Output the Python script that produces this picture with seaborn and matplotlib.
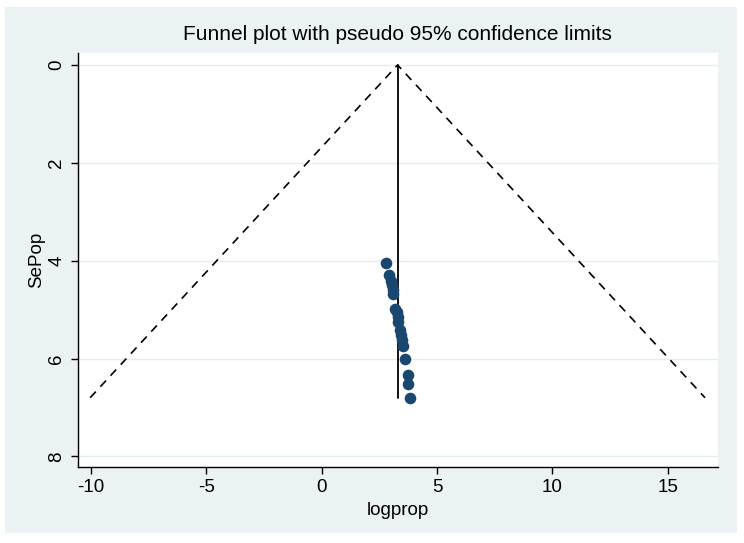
import seaborn as sns
import matplotlib.pyplot as plt
import pandas as pd

# Study estimates
logprop = [2.79, 2.93, 2.99, 3.03, 3.08, 3.10, 3.18, 3.25, 3.29, 3.32,
           3.39, 3.44, 3.47, 3.51, 3.61, 3.73, 3.75, 3.83]
sepop = [4.04, 4.29, 4.41, 4.50, 4.60, 4.69, 4.98, 5.04, 5.15, 5.25,
         5.42, 5.52, 5.62, 5.75, 6.00, 6.34, 6.51, 6.80]
pooled = 3.29
se_max = 6.80
xticks = [-10, -5, 0, 5, 10, 15]
yticks = [0, 2, 4, 6, 8]

bg = "#EAF2F3"
navy = "#1A476F"

sns.set_theme(style="white")
plt.rcParams['font.family'] = ['Liberation Sans', 'DejaVu Sans']
plt.rcParams['axes.unicode_minus'] = False
plt.rcParams['text.color'] = 'black'
plt.rcParams['axes.labelcolor'] = 'black'
plt.rcParams['xtick.color'] = 'black'
plt.rcParams['ytick.color'] = 'black'

fig = plt.figure(figsize=(7.44, 5.43), dpi=100)
fig.patch.set_facecolor("white")
# light inner backdrop like Stata's graph region
fig.add_artist(plt.Rectangle((5 / 744, 1 - 533 / 543), 732 / 744, 526 / 543,
                             transform=fig.transFigure, facecolor=bg,
                             edgecolor="none", zorder=-5))
ax = fig.add_axes([0.1044, 0.1405, 0.8603, 0.7619])
ax.set_facecolor("white")

df = pd.DataFrame({"logprop": logprop, "SePop": sepop})

# pseudo 95% limits
funnel = pd.DataFrame({
    "x": [pooled - 1.96 * se_max, pooled, pooled + 1.96 * se_max],
    "y": [se_max, 0, se_max],
})
ax.plot(funnel["x"], funnel["y"], color="black", lw=1.2, ls=(0, (5, 4)), zorder=2)
ax.plot([pooled, pooled], [0, se_max], color="black", lw=1.3, zorder=3)

sns.scatterplot(data=df, x="logprop", y="SePop", ax=ax, color=navy, s=70,
                edgecolor=navy, linewidth=0, zorder=4)

ax.set_xlim(-10.58, 17.17)
ax.set_ylim(8.21, -0.245)
ax.set_xticks(xticks)
ax.set_yticks(yticks)
for t in yticks:
    ax.axhline(t, color="#E2EEF0", lw=1, zorder=1)

for side in ["top", "right"]:
    ax.spines[side].set_visible(False)
for side in ["left", "bottom"]:
    ax.spines[side].set_color("black")
    ax.spines[side].set_linewidth(1)

ax.tick_params(axis="both", direction="out", length=5, width=1, color="black",
               labelcolor="black", labelsize=13.5, left=True, bottom=True, pad=4)
for lab in ax.get_yticklabels():
    lab.set_rotation(90)
    lab.set_va("center")

ax.set_xlabel("logprop", fontsize=13.5, labelpad=4, color="black")
ax.set_ylabel("SePop", fontsize=13.5, labelpad=2, color="black")
ax.set_title("Funnel plot with pseudo 95% confidence limits", fontsize=15,
             pad=9, color="black")

fig.savefig("out.png", dpi=100, facecolor=fig.get_facecolor())
